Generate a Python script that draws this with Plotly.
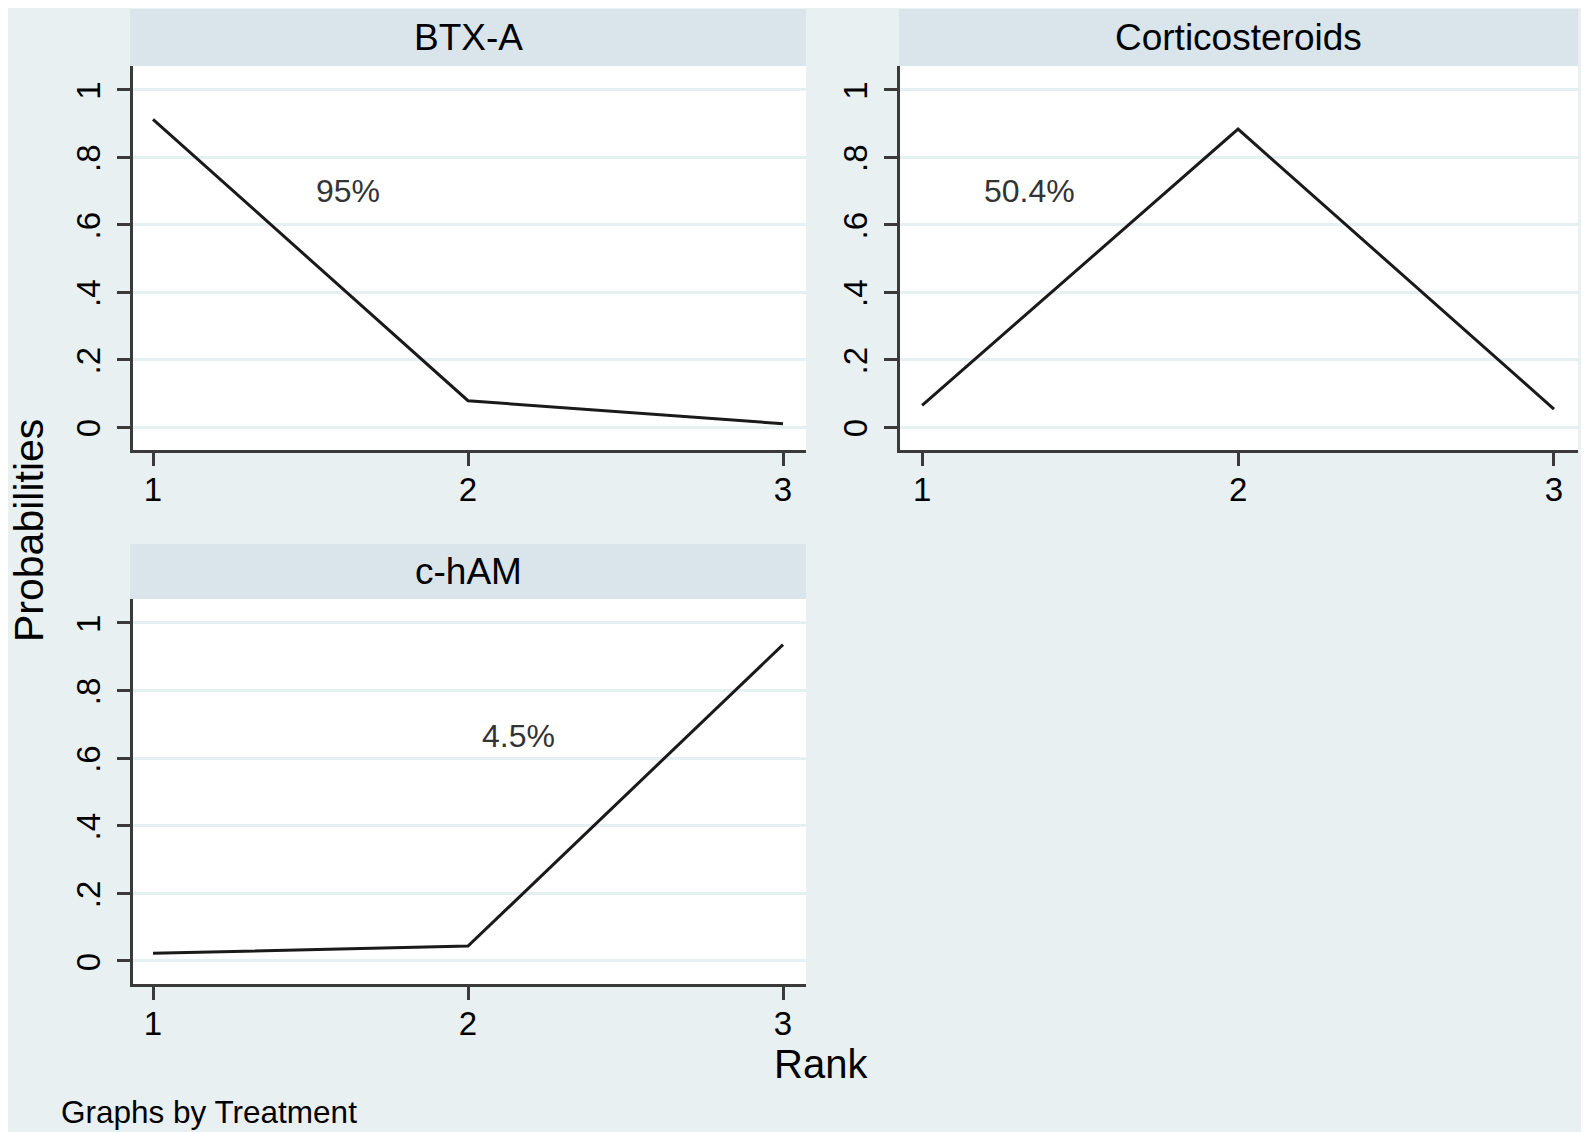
import plotly.graph_objects as go

# ---- data ----
treatments = ["BTX-A", "Corticosteroids", "c-hAM"]
ranks = [1, 2, 3]
prob_btx = [0.912, 0.078, 0.010]
prob_cort = [0.064, 0.883, 0.053]
prob_cham = [0.023, 0.044, 0.935]
sucra_text = ["95%", "50.4%", "4.5%"]
sucra_x = [1.62, 1.34, 2.16]
sucra_y = [0.70, 0.70, 0.665]
y_ticks = [0, 0.2, 0.4, 0.6, 0.8, 1]
y_ticklabels = ["0", ".2", ".4", ".6", ".8", "1"]
x_ticks = [1, 2, 3]

series = [prob_btx, prob_cort, prob_cham]

OFF = 8  # page body margin
W, H = 1589 - OFF, 1132 - OFF
BG = "#E8F0F2"
STRIP = "#D9E5EB"
GRID = "#E6EFF2"
AXC = "#3a3a3a"
FONT = "Liberation Sans, Arial, Helvetica, sans-serif"

def px(x):
    return (x - OFF) / W

def py(y):
    return 1 - (y - OFF) / H

# panel geometry in screen pixels: (left, right, top, bottom)
panels = [
    (133, 806, 66, 450),
    (900, 1578, 66, 450),
    (133, 806, 599, 984),
]
strips = [
    (130, 806, 9, 66),
    (899, 1578, 9, 66),
    (130, 806, 544, 599),
]
xranges = [[0.9365, 3.073], [0.930, 3.076], [0.9365, 3.073]]

fig = go.Figure()
layout = dict(
    width=W, height=H,
    margin=dict(l=0, r=0, t=0, b=0),
    paper_bgcolor=BG,
    plot_bgcolor="white",
    showlegend=False,
    font=dict(family=FONT, color="black"),
    shapes=[], annotations=[],
)

for i, (name, vals) in enumerate(zip(treatments, series)):
    n = "" if i == 0 else str(i + 1)
    fig.add_trace(go.Scatter(
        x=ranks, y=vals, mode="lines",
        line=dict(color="#1a1a1a", width=3),
        xaxis="x" + n, yaxis="y" + n, hoverinfo="skip",
    ))
    l, r, t, b = panels[i]
    layout["xaxis" + n] = dict(
        domain=[px(l), px(r)], anchor="y" + n,
        range=xranges[i], tickvals=x_ticks, ticktext=[str(v) for v in x_ticks],
        showgrid=False, zeroline=False,
        showline=True, linecolor=AXC, linewidth=2.5,
        ticks="outside", ticklen=13, tickwidth=2.5, tickcolor=AXC,
        tickfont=dict(size=33, family=FONT, color="black"),
        ticklabelstandoff=-4,
    )
    layout["yaxis" + n] = dict(
        domain=[py(b), py(t)], anchor="x" + n,
        range=[-0.068, 1.07], tickvals=y_ticks, ticktext=y_ticklabels,
        tickangle=-90,
        showgrid=True, gridcolor=GRID, gridwidth=2.5,
        zeroline=False,
        showline=True, linecolor=AXC, linewidth=2.5,
        ticks="outside", ticklen=13, tickwidth=2.5, tickcolor=AXC,
        tickfont=dict(size=33, family=FONT, color="black"),
        ticklabelstandoff=4, ticklabelshift=6,
    )
    sl, sr, st, sb = strips[i]
    layout["shapes"].append(dict(
        type="rect", xref="paper", yref="paper",
        x0=px(sl), x1=px(sr), y0=py(sb), y1=py(st),
        fillcolor=STRIP, line=dict(width=0), layer="below",
    ))
    layout["annotations"].append(dict(
        xref="paper", yref="paper",
        x=px((sl + sr) / 2), y=py((st + sb) / 2),
        text=name, showarrow=False,
        xanchor="center", yanchor="middle",
        font=dict(size=37, family=FONT, color="black"),
    ))
    layout["annotations"].append(dict(
        xref="x" + n, yref="y" + n,
        x=sucra_x[i], y=sucra_y[i], text=sucra_text[i],
        showarrow=False, xanchor="center", yanchor="middle",
        font=dict(size=32, family=FONT, color="#333333"),
    ))

# axis titles and note
layout["annotations"].append(dict(
    xref="paper", yref="paper", x=px(29), y=py(531),
    text="Probabilities", textangle=-90, showarrow=False,
    xanchor="center", yanchor="middle",
    font=dict(size=41, family=FONT, color="black"),
))
layout["annotations"].append(dict(
    xref="paper", yref="paper", x=px(821), y=py(1064),
    text="Rank", showarrow=False, xanchor="center", yanchor="middle",
    font=dict(size=40, family=FONT, color="black"),
))
layout["annotations"].append(dict(
    xref="paper", yref="paper", x=px(59), y=py(1112),
    text="Graphs by Treatment", showarrow=False, xanchor="left", yanchor="middle",
    font=dict(size=31.5, family=FONT, color="black"),
))

fig.update_layout(**layout)
fig.write_html("out.html")
